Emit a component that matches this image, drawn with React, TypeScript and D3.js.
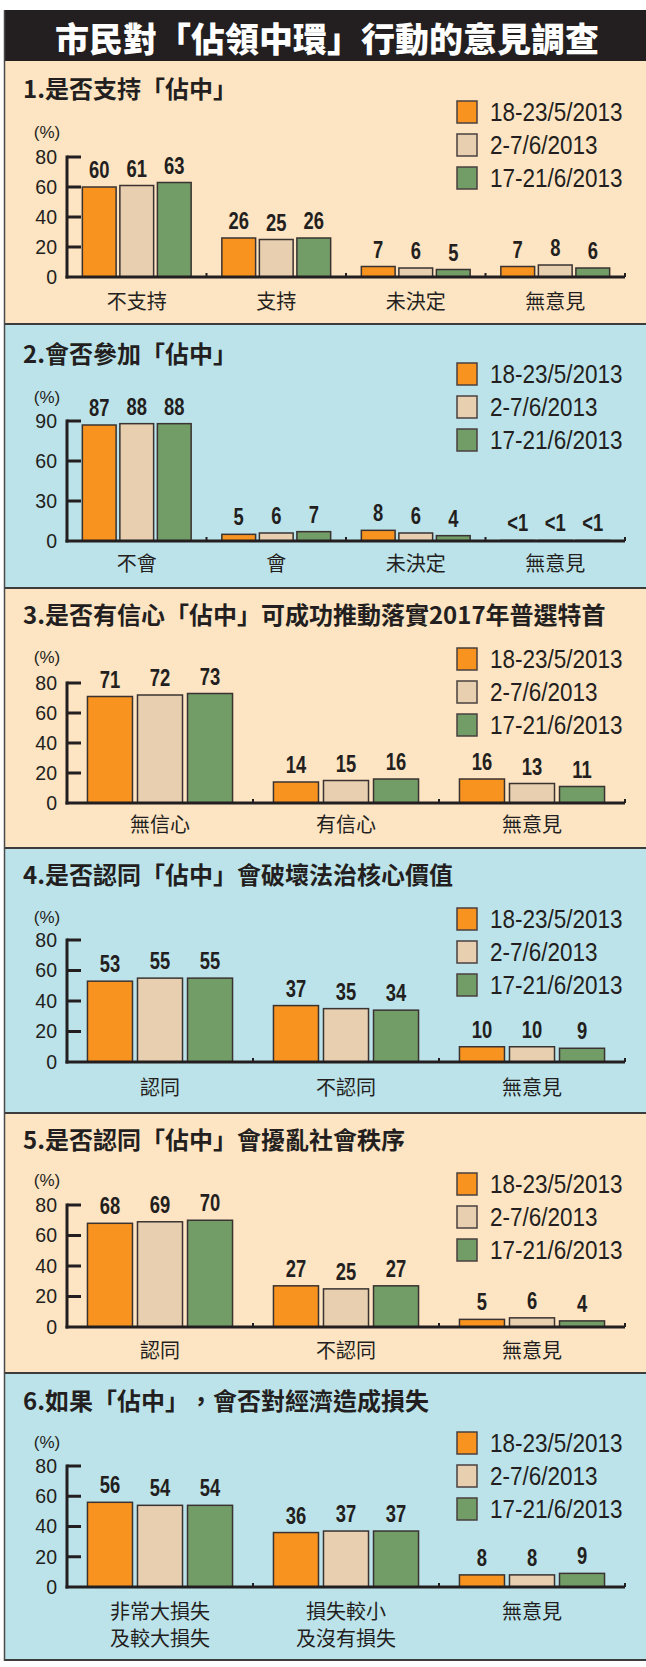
import React from "react";
import * as d3 from "d3";

// ---------- data ----------
const seriesNames = ["18-23/5/2013", "2-7/6/2013", "17-21/6/2013"];
const mainTitle = "市民對「佔領中環」行動的意見調查";

const q1Title = "1.是否支持「佔中」";
const q1Cats = ["不支持", "支持", "未決定", "無意見"];
const q1A = [60, 26, 7, 7];
const q1B = [61, 25, 6, 8];
const q1C = [63, 26, 5, 6];
const q1Ticks = [0, 20, 40, 60, 80];

const q2Title = "2.會否參加「佔中」";
const q2Cats = ["不會", "會", "未決定", "無意見"];
const q2A = [87, 5, 8, 0.4];
const q2B = [88, 6, 6, 0.4];
const q2C = [88, 7, 4, 0.4];
const q2Ticks = [0, 30, 60, 90];

const q3Title = "3.是否有信心「佔中」可成功推動落實2017年普選特首";
const q3Cats = ["無信心", "有信心", "無意見"];
const q3A = [71, 14, 16];
const q3B = [72, 15, 13];
const q3C = [73, 16, 11];
const q3Ticks = [0, 20, 40, 60, 80];

const q4Title = "4.是否認同「佔中」會破壞法治核心價值";
const q4Cats = ["認同", "不認同", "無意見"];
const q4A = [53, 37, 10];
const q4B = [55, 35, 10];
const q4C = [55, 34, 9];
const q4Ticks = [0, 20, 40, 60, 80];

const q5Title = "5.是否認同「佔中」會擾亂社會秩序";
const q5Cats = ["認同", "不認同", "無意見"];
const q5A = [68, 27, 5];
const q5B = [69, 25, 6];
const q5C = [70, 27, 4];
const q5Ticks = [0, 20, 40, 60, 80];

const q6Title = "6.如果「佔中」，會否對經濟造成損失";
const q6Cats = ["非常大損失\n及較大損失", "損失較小\n及沒有損失", "無意見"];
const q6A = [56, 36, 8];
const q6B = [54, 37, 8];
const q6C = [54, 37, 9];
const q6Ticks = [0, 20, 40, 60, 80];

const questions = [
  { title: q1Title, cats: q1Cats, vals: [q1A, q1B, q1C], ticks: q1Ticks },
  { title: q2Title, cats: q2Cats, vals: [q2A, q2B, q2C], ticks: q2Ticks },
  { title: q3Title, cats: q3Cats, vals: [q3A, q3B, q3C], ticks: q3Ticks },
  { title: q4Title, cats: q4Cats, vals: [q4A, q4B, q4C], ticks: q4Ticks },
  { title: q5Title, cats: q5Cats, vals: [q5A, q5B, q5C], ticks: q5Ticks },
  { title: q6Title, cats: q6Cats, vals: [q6A, q6B, q6C], ticks: q6Ticks },
];

// ---------- layout / style ----------
const W = 646;
const H = 1667;
const BEIGE = "#FDE4C2";
const BLUE = "#BCE3EA";
const INK = "#231F20";
const barColors = ["#F7931E", "#E7CFAF", "#729D67"];
const CJK = "'Noto Sans CJK TC', 'Noto Sans CJK SC', sans-serif";
const LAT = "'Liberation Sans', Arial, sans-serif";
const noTrim: any = { textSpacingTrim: "space-all" };

const layout = [
  { top: 61, bottom: 324, bg: BEIGE, titleY: 87, pctY: 132, axTop: 157, axBot: 277, legY: 112, catY: 300 },
  { top: 324, bottom: 588, bg: BLUE, titleY: 352, pctY: 397, axTop: 421, axBot: 541, legY: 374, catY: 562 },
  { top: 588, bottom: 848, bg: BEIGE, titleY: 613, pctY: 657, axTop: 683, axBot: 803, legY: 659, catY: 823 },
  { top: 848, bottom: 1113, bg: BLUE, titleY: 873, pctY: 917, axTop: 940, axBot: 1062, legY: 919, catY: 1086 },
  { top: 1113, bottom: 1373, bg: BEIGE, titleY: 1138, pctY: 1180, axTop: 1205, axBot: 1327, legY: 1184, catY: 1349 },
  { top: 1373, bottom: 1660, bg: BLUE, titleY: 1399, pctY: 1442, axTop: 1466, axBot: 1587, legY: 1443, catY: 1610 },
];
const AX_X = 67;
const AX_END = 625;

function Panel({ q, L }: any) {
  const x0 = d3.scaleBand<string>().domain(q.cats).range([AX_X, AX_END]).paddingInner(0.22).paddingOuter(0.11);
  const x1 = d3.scaleBand<number>().domain([0, 1, 2]).range([0, x0.bandwidth()]).paddingInner(0.1);
  const yMax = q.ticks[q.ticks.length - 1];
  const y = d3.scaleLinear().domain([0, yMax]).range([L.axBot, L.axTop]);
  const step = x0.step();
  const fmt = (v: number) => (v < 1 ? "<1" : String(v));
  return (
    <g>
      <rect x={4} y={L.top} width={W - 4} height={L.bottom - L.top} fill={L.bg} />
      <text x={23} y={L.titleY} dominantBaseline="central" fontFamily={CJK} fontWeight={700} fontSize={24} fill={INK} style={noTrim}>
        {q.title}
      </text>
      <text x={47} y={L.pctY + 6} textAnchor="middle" fontFamily={LAT} fontSize={17} fill={INK}>
        (%)
      </text>
      {/* y axis */}
      <line x1={AX_X} x2={AX_X} y1={L.axTop - 1.5} y2={L.axBot + 1.5} stroke={INK} strokeWidth={3} />
      {q.ticks.map((t: number) => (
        <g key={t}>
          {t > 0 && <line x1={AX_X} x2={AX_X + 14} y1={y(t)} y2={y(t)} stroke={INK} strokeWidth={3} />}
          <text x={57} y={y(t) + 0.358 * 19.5} textAnchor="end" fontFamily={LAT} fontSize={19.5} fill={INK}>
            {t}
          </text>
        </g>
      ))}
      {/* bars */}
      {q.cats.map((c: string, ci: number) => (
        <g key={c}>
          {q.vals.map((arr: number[], si: number) => {
            const v = arr[ci];
            const bx = (x0(c) as number) + (x1(si) as number);
            const bw = x1.bandwidth();
            const top = y(v);
            const cx = bx + bw / 2;
            return (
              <g key={si}>
                <rect x={bx} y={top} width={bw} height={L.axBot - top} fill={barColors[si]} stroke="#3A3332" strokeWidth={1.5} />
                <g transform={`translate(${cx},${top - 9}) scale(0.75,1)`}>
                  <text x={0} y={0} textAnchor="middle" fontFamily={LAT} fontWeight={700} fontSize={24.5} fill={INK}>
                    {fmt(v)}
                  </text>
                </g>
              </g>
            );
          })}
          {c.split("\n").map((line: string, li: number) => (
            <text key={li} x={(x0(c) as number) + x0.bandwidth() / 2} y={L.catY + li * 27} textAnchor="middle"
              dominantBaseline="central" fontFamily={CJK} fontSize={20} fill={INK}>
              {line}
            </text>
          ))}
        </g>
      ))}
      {/* x axis */}
      <line x1={AX_X - 1.5} x2={AX_END} y1={L.axBot} y2={L.axBot} stroke={INK} strokeWidth={3} />
      {q.cats.map((c: string, ci: number) => (
        <rect key={"m" + ci} x={AX_X + step * (ci + 1) - 1} y={L.axBot - 4} width={2} height={4} fill={INK} />
      ))}
      {/* legend */}
      {seriesNames.map((s, si) => {
        const cy = L.legY + si * 33;
        return (
          <g key={s}>
            <rect x={457} y={cy - 11} width={20} height={22} fill={barColors[si]} stroke="#4A4040" strokeWidth={1.5} />
            <g transform={`translate(490,${cy + 0.358 * 25}) scale(0.9,1)`}>
              <text x={0} y={0} fontFamily={LAT} fontSize={25} fill={INK}>
                {s}
              </text>
            </g>
          </g>
        );
      })}
    </g>
  );
}

export default function App() {
  return (
    <svg width={W} height={H} viewBox={`0 0 ${W} ${H}`} style={{ position: "absolute", left: 0, top: 0, display: "block", background: "#fff" }}>
      <rect x={0} y={0} width={W} height={H} fill="#fff" />
      <rect x={4} y={10} width={W - 4} height={51} fill={INK} />
      <text x={327} y={37} textAnchor="middle" dominantBaseline="central" fontFamily={CJK} fontWeight={900} fontSize={34} fill="#fff" style={noTrim}>
        {mainTitle}
      </text>
      {questions.map((q, i) => (
        <Panel key={i} q={q} L={layout[i]} />
      ))}
      {/* panel separators and borders */}
      {layout.map((L, i) => (
        <line key={"sep" + i} x1={4} x2={W} y1={L.bottom} y2={L.bottom} stroke="#3C3C3C" strokeWidth={2} />
      ))}
      <line x1={4.5} x2={4.5} y1={10} y2={1661} stroke="#4A4A4A" strokeWidth={1.5} />
    </svg>
  );
}
